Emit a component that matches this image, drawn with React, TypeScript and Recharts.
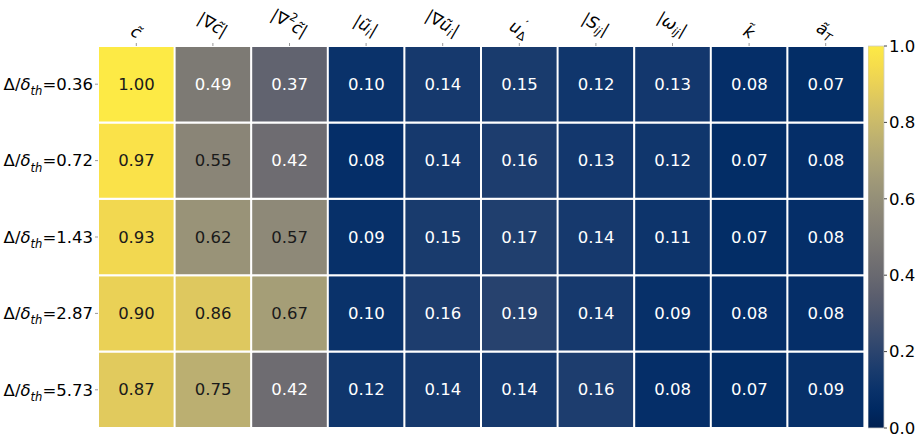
import React from "react";
import { BarChart, Bar, Cell, XAxis, YAxis, LabelList } from "recharts";

// column headers (mini markup: _ subscript, ^ superscript)
const columns = ["c̃", "|∇c̃|", "|∇^2c̃|", "|ũ_i|", "|∇ũ_i|", "u_Δ^′", "|S_ij|", "|ω_ij|", "k̃", "ã_T"];
const rowFilters = ["0.36", "0.72", "1.43", "2.87", "5.73"];

const row036 = [1.0, 0.49, 0.37, 0.1, 0.14, 0.15, 0.12, 0.13, 0.08, 0.07];
const row072 = [0.97, 0.55, 0.42, 0.08, 0.14, 0.16, 0.13, 0.12, 0.07, 0.08];
const row143 = [0.93, 0.62, 0.57, 0.09, 0.15, 0.17, 0.14, 0.11, 0.07, 0.08];
const row287 = [0.9, 0.86, 0.67, 0.1, 0.16, 0.19, 0.14, 0.09, 0.08, 0.08];
const row573 = [0.87, 0.75, 0.42, 0.12, 0.14, 0.14, 0.16, 0.08, 0.07, 0.09];
const rows = [row036, row072, row143, row287, row573];

const cbTicks = [0, 0.2, 0.4, 0.6, 0.8, 1.0];

const FONT = "DejaVu Sans, sans-serif";
const FS = 16.5;

// cividis colormap (polynomial fit, same as d3)
const clamp = (v: number) => Math.max(0, Math.min(255, Math.round(v)));
const cividis = (t: number) => {
  t = Math.max(0, Math.min(1, t));
  const r = clamp(-4.54 - t * (35.34 - t * (2381.73 - t * (6402.7 - t * (7024.72 - t * 2710.57)))));
  const g = clamp(32.49 + t * (170.73 + t * (52.82 - t * (131.46 - t * (176.58 - t * 67.37)))));
  const b = clamp(81.24 + t * (442.36 - t * (2482.43 - t * (6167.24 - t * (6614.94 - t * 2475.67)))));
  return `rgb(${r},${g},${b})`;
};

// each cell is one unit tall in the stack
const table = columns.map((name) => {
  const d: any = { name };
  rows.forEach((_, j) => (d[`cell${j}`] = 1));
  return d;
});

type Seg = { t: string; pos: number; it: boolean };
const isLetter = (c: string) => /[a-zA-Zα-ω]/.test(c);

// turn the mini markup into styled pieces
const parseMath = (s: string): Seg[] => {
  const chars = Array.from(s.normalize("NFD"));
  const out: Seg[] = [];
  let i = 0;
  const take = () => {
    let c = chars[i++];
    while (i < chars.length && /[\u0300-\u036f]/.test(chars[i])) c += chars[i++];
    return c;
  };
  while (i < chars.length) {
    const c = chars[i];
    if (c === "^") {
      i++;
      const g = take();
      out.push({ t: g, pos: -1, it: false });
    } else if (c === "_") {
      i++;
      let g = "";
      while (i < chars.length && (isLetter(chars[i]) || /[ΔΑ-Ω0-9]/.test(chars[i]))) g += take();
      out.push({ t: g, pos: 1, it: /[a-zA-Zα-ω]/.test(g) });
    } else {
      const g = take();
      out.push({ t: g, pos: 0, it: isLetter(g[0]) });
    }
  }
  return out;
};

const MathText = ({ s }: { s: string }) => {
  const segs = parseMath(s);
  let cur = 0;
  return (
    <>
      {segs.map((sg, k) => {
        const target = sg.pos === 1 ? 0.32 * FS : sg.pos === -1 ? -0.42 * FS : 0;
        const dy = target - cur;
        cur = target;
        // stack a script over/under the preceding opposite script
        const prev = k > 0 ? segs[k - 1] : null;
        const dx = sg.pos !== 0 && prev && prev.pos === -sg.pos ? -0.7 * FS * 0.62 * Array.from(prev.t).length : 0;
        return (
          <tspan
            key={k}
            dy={dy}
            dx={dx}
            fontStyle={sg.it ? "italic" : "normal"}
            fontSize={sg.pos === 0 ? FS : FS * 0.7}
          >
            {sg.t}
          </tspan>
        );
      })}
    </>
  );
};

const HeaderTick = (props: any) => {
  const { x, payload } = props;
  const s: string = payload.value;
  const n = parseMath(s).reduce((a, g) => a + (g.pos === 0 ? 1 : 0.6 * Array.from(g.t.normalize("NFC")).length), 0);
  const w = n * 0.6 * FS;
  const h = FS * 1.1;
  const ang = 30;
  const H = w * Math.sin((ang * Math.PI) / 180) + h * Math.cos((ang * Math.PI) / 180);
  const cy = 42 - H / 2;
  return (
    <g transform={`translate(${x},${cy}) rotate(${ang})`}>
      <text textAnchor="middle" dominantBaseline="central" fontFamily={FONT} fontSize={FS} fill="#000">
        <MathText s={s} />
      </text>
    </g>
  );
};

const RowTick = (props: any) => {
  const { x, y, payload } = props;
  const j = rows.length - 1 - Math.floor(payload.value);
  return (
    <text x={x} y={y + FS * 0.35} textAnchor="end" fontFamily={FONT} fontSize={FS} fill="#000">
      <MathText s={`Δ/δ_th=${rowFilters[j]}`} />
    </text>
  );
};

const CellLabel = (j: number) => (p: any) => {
  const vb = p.viewBox || p;
  const x = vb.x ?? p.x;
  const y = vb.y ?? p.y;
  const w = vb.width ?? p.width;
  const h = vb.height ?? p.height;
  const v = rows[j][p.index];
  return (
    <text
      x={x + w / 2}
      y={y + h / 2}
      textAnchor="middle"
      dominantBaseline="central"
      fontFamily={FONT}
      fontSize={FS}
      fill={v > 0.5 ? "#1a1a1a" : "#ffffff"}
    >
      {v.toFixed(2)}
    </text>
  );
};

const App = () => {
  const bottomUp = rows.map((_, j) => j).reverse();
  return (
    <div style={{ position: "absolute", left: 0, top: 0, width: 919, height: 438, background: "#fff", fontFamily: FONT }}>
      <svg width={0} height={0} style={{ position: "absolute" }}>
        <defs>
          <linearGradient id="cividisBar" x1="0" y1="1" x2="0" y2="0">
            {Array.from({ length: 21 }, (_, k) => (
              <stop key={k} offset={`${k * 5}%`} stopColor={cividis(k / 20)} />
            ))}
          </linearGradient>
        </defs>
      </svg>
      <div style={{ position: "absolute", left: 0, top: 0 }}>
        <BarChart width={870} height={438} data={table} margin={{ top: 6, right: 6, bottom: 10, left: 4 }} barCategoryGap={0} barGap={0}>
          <XAxis
            dataKey="name"
            orientation="top"
            height={40}
            interval={0}
            axisLine={false}
            tickSize={3}
            tickLine={{ stroke: "#999" }}
            tick={(p: any) => <HeaderTick {...p} />}
          />
          <YAxis
            type="number"
            domain={[0, rows.length]}
            ticks={rows.map((_, k) => k + 0.5)}
            width={94}
            axisLine={false}
            tickSize={3}
            tickLine={{ stroke: "#999" }}
            tick={(p: any) => <RowTick {...p} />}
          />
          {bottomUp.map((j) => (
            <Bar key={j} dataKey={`cell${j}`} stackId="s" isAnimationActive={false} stroke="#fff" strokeWidth={2}>
              {columns.map((c, i) => (
                <Cell key={c} fill={cividis(rows[j][i])} />
              ))}
              <LabelList dataKey={`cell${j}`} content={CellLabel(j)} />
            </Bar>
          ))}
        </BarChart>
      </div>
      <div style={{ position: "absolute", left: 868, top: 0 }}>
        <BarChart width={51} height={438} data={[{ name: "cb", span: 1 }]} margin={{ top: 46, right: 0, bottom: 10, left: 0 }} barCategoryGap={0}>
          <XAxis dataKey="name" hide />
          <YAxis
            orientation="right"
            type="number"
            domain={[0, 1]}
            ticks={cbTicks}
            width={35}
            axisLine={false}
            tickSize={3}
            tickLine={{ stroke: "#444" }}
            tickFormatter={(v: number) => v.toFixed(1)}
            tick={{ fontFamily: FONT, fontSize: FS, fill: "#000" }}
          />
          <Bar dataKey="span" fill="url(#cividisBar)" stroke="#ccc" strokeWidth={0.8} isAnimationActive={false} />
        </BarChart>
      </div>
    </div>
  );
};

export default App;
